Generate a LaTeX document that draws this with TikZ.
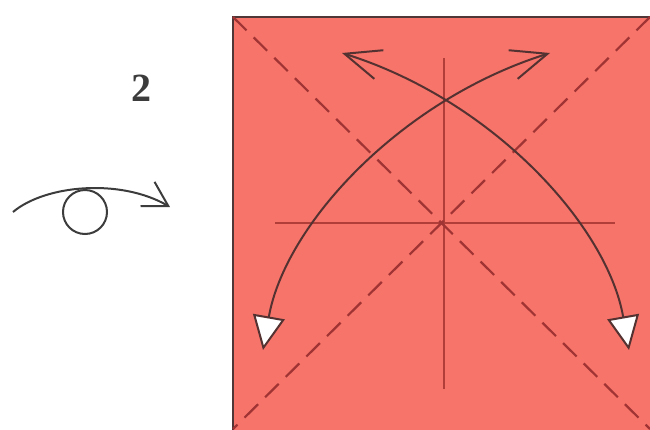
\documentclass[tikz,border=0pt]{standalone}
\usepackage{fontspec}
\setmainfont{Liberation Serif}
\usetikzlibrary{arrows.meta}
\definecolor{paper}{RGB}{247,116,106}
\definecolor{edge}{RGB}{80,55,55}
\definecolor{crease}{RGB}{178,62,58}
\definecolor{dashc}{RGB}{160,52,52}
\definecolor{arrowc}{RGB}{85,50,50}
\definecolor{ink}{RGB}{60,60,60}
\tikzset{
  sheet/.style={fill=paper, draw=edge, line width=2.2pt},
  creaseline/.style={draw=crease, line width=1.3pt},
  valley/.style={draw=dashc, line width=2.2pt, dash pattern=on 19pt off 10pt},
  foldarrow/.style={draw=arrowc, line width=2pt,
    {Straight Barb[length=36pt,width=30pt,line width=2pt]}-{Triangle[length=34pt,width=32pt,fill=white,line width=2pt]}},
  turnarrow/.style={draw=ink, line width=2pt, -{Straight Barb[length=24pt,width=28pt,line width=2pt]}},
  lab/.style={font=\fontsize{40}{40}\selectfont\bfseries, text=ink}
}
\begin{document}
\begin{tikzpicture}[x=1pt,y=-1pt]
\useasboundingbox (0,0) rectangle (650,429);
% sheet
\draw[sheet] (233,17) rectangle (652,431);
\coordinate (tl) at (233,17);
\coordinate (tr) at (650,17);
\coordinate (bl) at (233,429);
\coordinate (br) at (650,429);
% creases
\coordinate (vt) at (444,58);
\coordinate (vb) at (444,389);
\coordinate (hl) at (275,223);
\coordinate (hr) at (615,223);
\draw[creaseline] (vt) -- (vb);
\draw[creaseline] (hl) -- (hr);
% valley diagonals
\draw[valley] (tl) -- (br);
\draw[valley] (tr) -- (bl);
% fold arrows
\coordinate (a1s) at (550,53);
\coordinate (a1e) at (263,350);
\coordinate (a2s) at (342,53);
\coordinate (a2e) at (629,350);
\draw[foldarrow] (a1s) .. controls (400,100) and (285,225) .. (a1e);
\draw[foldarrow] (a2s) .. controls (492,100) and (607,225) .. (a2e);
% turn-over symbol
\node[lab] (num) at (141,88) {2};
\node[draw=ink, line width=2pt, circle, minimum size=44pt, inner sep=0pt] (loop) at (85,212) {};
\coordinate (ts) at (13,212);
\coordinate (te) at (170,207);
\draw[turnarrow] (ts) .. controls (45,185) and (120,178) .. (te);
\end{tikzpicture}
\end{document}
